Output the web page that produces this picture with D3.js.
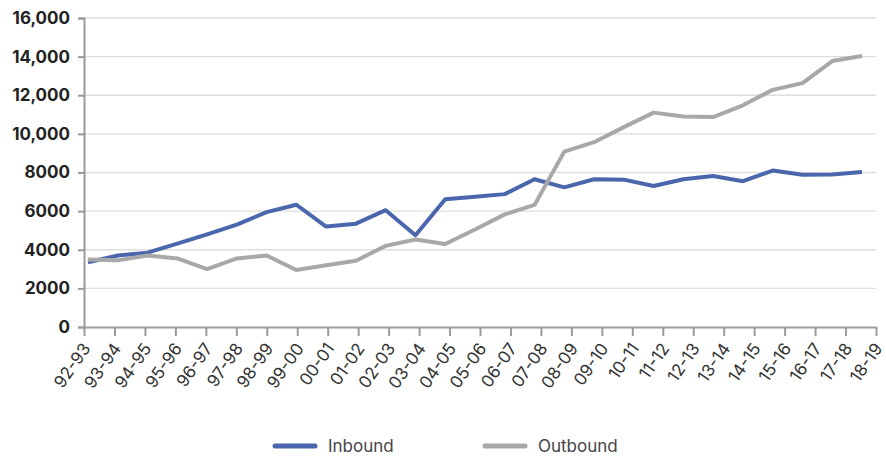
<!DOCTYPE html>
<html>
<head>
<meta charset="utf-8">
<script src="https://cdn.jsdelivr.net/npm/d3@7"></script>
<style>
  html, body { margin: 0; padding: 0; background: #fff; }
  svg { display: block; }
</style>
</head>
<body>
<svg id="chart" width="886" height="458"></svg>
<script>
// Financial years on the category axis
const years = ["92-93","93-94","94-95","95-96","96-97","97-98","98-99","99-00","00-01","01-02",
  "02-03","03-04","04-05","05-06","06-07","07-08","08-09","09-10","10-11","11-12",
  "12-13","13-14","14-15","15-16","16-17","17-18","18-19"];

// Inbound and outbound totals per year
const inbound = [3350,3700,3850,4320,4800,5300,5950,6330,5200,5350,
  6050,4750,6620,6750,6880,7650,7230,7650,7630,7300,
  7650,7820,7550,8100,7880,7900,8020];
const outbound = [3500,3450,3700,3550,3000,3550,3700,2950,3200,3430,
  4200,4530,4300,5050,5830,6320,9080,9570,10350,11100,
  10900,10870,11480,12280,12630,13770,14030];

const yTicks = [0,2000,4000,6000,8000,10000,12000,14000,16000];
const seriesNames = ["Inbound","Outbound"];
const seriesColors = ["#4a66ad","#a8a8a8"];

const svg = d3.select("#chart");
const plot = { left: 84, right: 876, top: 18, bottom: 327 };

const y = d3.scaleLinear().domain([0,16000]).range([plot.bottom, plot.top]);
// category axis ticks and the positions the series are plotted at
const xAxisScale = d3.scalePoint().domain(years).range([plot.left, plot.right]);
const x = d3.scalePoint().domain(years).range([88, 862]);

// horizontal gridlines
svg.append("g")
  .selectAll("line")
  .data(yTicks.filter(t => t > 0))
  .join("line")
  .attr("x1", plot.left).attr("x2", plot.right)
  .attr("y1", d => y(d)).attr("y2", d => y(d))
  .attr("stroke", "#dedede").attr("stroke-width", 1.3);

// y axis
const yAxis = svg.append("g")
  .attr("transform", `translate(${plot.left},0)`)
  .call(d3.axisLeft(y).tickValues(yTicks).tickSize(6).tickPadding(8)
    .tickFormat(d => d >= 10000 ? d3.format(",")(d) : d3.format("d")(d)));
yAxis.select(".domain").attr("stroke", "#9a9a9a").attr("stroke-width", 2);
yAxis.selectAll(".tick line").attr("stroke", "#9a9a9a").attr("stroke-width", 2);
yAxis.selectAll("text")
  .attr("fill", "#222")
  .style("font-family", "Inter, 'Open Sans', sans-serif")
  .style("font-weight", 700)
  .style("font-size", "17px");

// x axis
const xAxis = svg.append("g")
  .attr("transform", `translate(0,${plot.bottom})`)
  .call(d3.axisBottom(xAxisScale).tickSize(9).tickSizeOuter(0));
xAxis.select(".domain").attr("stroke", "#9a9a9a").attr("stroke-width", 2);
xAxis.selectAll(".tick line").attr("stroke", "#9a9a9a").attr("stroke-width", 2);
xAxis.selectAll("text")
  .attr("fill", "#333")
  .style("font-family", "Inter, 'Open Sans', sans-serif")
  .style("font-size", "17px")
  .attr("text-anchor", "end")
  .attr("y", 0).attr("dy", "0.35em")
  .attr("transform", "translate(2,18) rotate(-55)");

// series lines
const line = d3.line().x((d, i) => x(years[i])).y(d => y(d));
[inbound, outbound].forEach((vals, k) => {
  svg.append("path")
    .datum(vals)
    .attr("d", line)
    .attr("fill", "none")
    .attr("stroke", seriesColors[k])
    .attr("stroke-width", 4)
    .attr("stroke-linejoin", "round");
});

// legend
const legendX = [275, 485];
const legend = svg.append("g");
seriesNames.forEach((name, k) => {
  legend.append("line")
    .attr("x1", legendX[k]).attr("x2", legendX[k] + 40)
    .attr("y1", 446).attr("y2", 446)
    .attr("stroke", seriesColors[k]).attr("stroke-width", 5)
    .attr("stroke-linecap", "round");
  legend.append("text")
    .attr("x", legendX[k] + 53).attr("y", 446).attr("dy", "0.35em")
    .attr("fill", "#444")
    .style("font-family", "Inter, 'Open Sans', sans-serif")
    .style("font-size", "17px")
    .text(name);
});
</script>
</body>
</html>
